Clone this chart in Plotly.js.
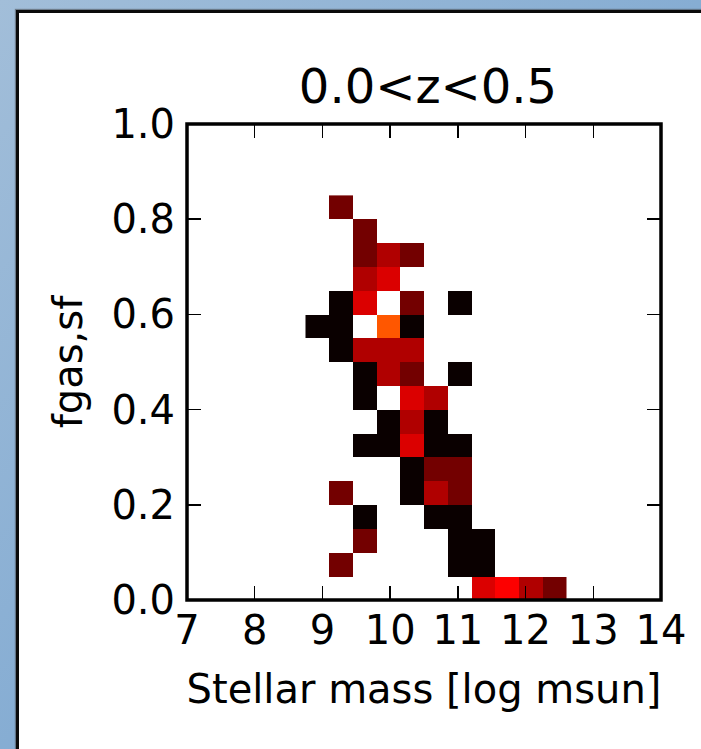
<!DOCTYPE html>
<html>
<head>
<meta charset="utf-8">
<script src="https://cdn.plot.ly/plotly-3.0.1.min.js"></script>
<style>
  html, body { margin: 0; padding: 0; width: 701px; height: 749px; overflow: hidden; }
  body { background: linear-gradient(to bottom right, #a2bed9 0%, #86add3 50%, #72a2cf 100%); position: relative; }
  #panel { position: absolute; left: 16px; top: 10px; width: 800px; height: 800px;
           background: #ffffff; border-left: 3px solid #0a0a0a; border-top: 3px solid #0a0a0a;
           box-shadow: -1px -1px 1px rgba(60,60,60,0.5); }
  #chart { position: absolute; left: 0; top: 0; width: 701px; height: 749px; }
</style>
</head>
<body>
<div id="panel"></div>
<div id="chart"></div>
<script>
// Bin edges of the 2D histogram (stellar mass, fgas,sf)
const massEdges = [8.75, 9.10, 9.45, 9.80, 10.15, 10.50, 10.85, 11.20, 11.55, 11.90, 12.25, 12.60];
const fgasEdges = [0.00, 0.05, 0.10, 0.15, 0.20, 0.25, 0.30, 0.35, 0.40, 0.45, 0.50,
                   0.55, 0.60, 0.65, 0.70, 0.75, 0.80, 0.85];
// Counts per bin: rows = fgas bins (bottom to top), columns = mass bins (left to right); null = empty
const counts = [
  [null, null, null, null, null, null, null, 4,    5,    3,    2   ], // 0.00-0.05
  [null, 2,    null, null, null, null, 1,    1,    null, null, null], // 0.05-0.10
  [null, null, 2,    null, null, null, 1,    1,    null, null, null], // 0.10-0.15
  [null, null, 1,    null, null, 1,    1,    null, null, null, null], // 0.15-0.20
  [null, 2,    null, null, 1,    3,    2,    null, null, null, null], // 0.20-0.25
  [null, null, null, null, 1,    2,    2,    null, null, null, null], // 0.25-0.30
  [null, null, 1,    1,    4,    1,    1,    null, null, null, null], // 0.30-0.35
  [null, null, null, 1,    3,    1,    null, null, null, null, null], // 0.35-0.40
  [null, null, 1,    null, 4,    3,    null, null, null, null, null], // 0.40-0.45
  [null, null, 1,    3,    2,    null, 1,    null, null, null, null], // 0.45-0.50
  [null, 1,    3,    3,    3,    null, null, null, null, null, null], // 0.50-0.55
  [1,    1,    85,   9,    1,    null, null, null, null, null, null], // 0.55-0.60
  [null, 1,    4,    85,   2,    null, 1,    null, null, null, null], // 0.60-0.65
  [null, null, 3,    4,    null, null, null, null, null, null, null], // 0.65-0.70
  [null, null, 2,    3,    2,    null, null, null, null, null, null], // 0.70-0.75
  [null, null, 2,    null, null, null, null, null, null, null, null], // 0.75-0.80
  [null, 2,    null, null, null, null, null, null, null, null, null]  // 0.80-0.85
];
const xTicks = [7, 8, 9, 10, 11, 12, 13, 14];
const yTicks = [0.0, 0.2, 0.4, 0.6, 0.8, 1.0];
const yTickText = ['0.0', '0.2', '0.4', '0.6', '0.8', '1.0'];

// matplotlib "hot" colormap, logarithmic colour normalisation
const hot = [[0, 'rgb(10,0,0)'], [0.365079, 'rgb(255,0,0)'], [0.746032, 'rgb(255,255,0)'], [1, 'rgb(255,255,255)']];
let maxCount = 0;
counts.forEach(r => r.forEach(v => { if (v !== null && v > maxCount) maxCount = v; }));
const zLog = counts.map(r => r.map(v => v === null ? null : Math.log10(v)));

const font = 'DejaVu Sans, sans-serif';
const trace = {
  type: 'heatmap',
  x: massEdges,
  y: fgasEdges,
  z: zLog,
  zmin: 0,
  zmax: Math.log10(maxCount),
  colorscale: hot,
  showscale: false,
  zsmooth: false,
  hoverinfo: 'skip'
};

const layout = {
  width: 701, height: 749,
  margin: { l: 186.5, r: 40, t: 123.5, b: 149, pad: 0 },
  paper_bgcolor: 'rgba(0,0,0,0)',
  plot_bgcolor: 'rgba(0,0,0,0)',
  showlegend: false,
  font: { family: font, size: 40, color: '#000' },
  title: {
    text: '0.0<z<0.5',
    font: { family: font, size: 48, color: '#000' },
    x: 428 / 701, xref: 'container', xanchor: 'center',
    y: 1 - 86 / 749, yref: 'container', yanchor: 'middle'
  },
  xaxis: {
    range: [7, 14], tickvals: xTicks, ticktext: xTicks.map(String),
    ticks: 'inside', ticklen: 14, tickwidth: 1.5, tickcolor: '#000',
    mirror: 'ticks', showline: false, showgrid: false, zeroline: false,
    tickfont: { family: font, size: 40, color: '#000' },
    ticklabelstandoff: 3,
    title: { text: 'Stellar mass [log msun]', font: { family: font, size: 40, color: '#000' }, standoff: 22 },
    fixedrange: true
  },
  yaxis: {
    range: [0, 1], tickvals: yTicks, ticktext: yTickText,
    ticks: 'inside', ticklen: 14, tickwidth: 1.5, tickcolor: '#000',
    mirror: 'ticks', showline: false, showgrid: false, zeroline: false,
    tickfont: { family: font, size: 40, color: '#000' },
    ticklabelstandoff: 11,
    title: { text: 'fgas,sf', font: { family: font, size: 40, color: '#000' }, standoff: 16 },
    fixedrange: true
  },
  shapes: [{
    type: 'rect', xref: 'paper', yref: 'paper', x0: 0, x1: 1, y0: 0, y1: 1,
    line: { color: '#000', width: 3.5 }, fillcolor: 'rgba(0,0,0,0)', layer: 'above'
  }]
};

Plotly.newPlot('chart', [trace], layout, { displayModeBar: false, staticPlot: true });
</script>
</body>
</html>
